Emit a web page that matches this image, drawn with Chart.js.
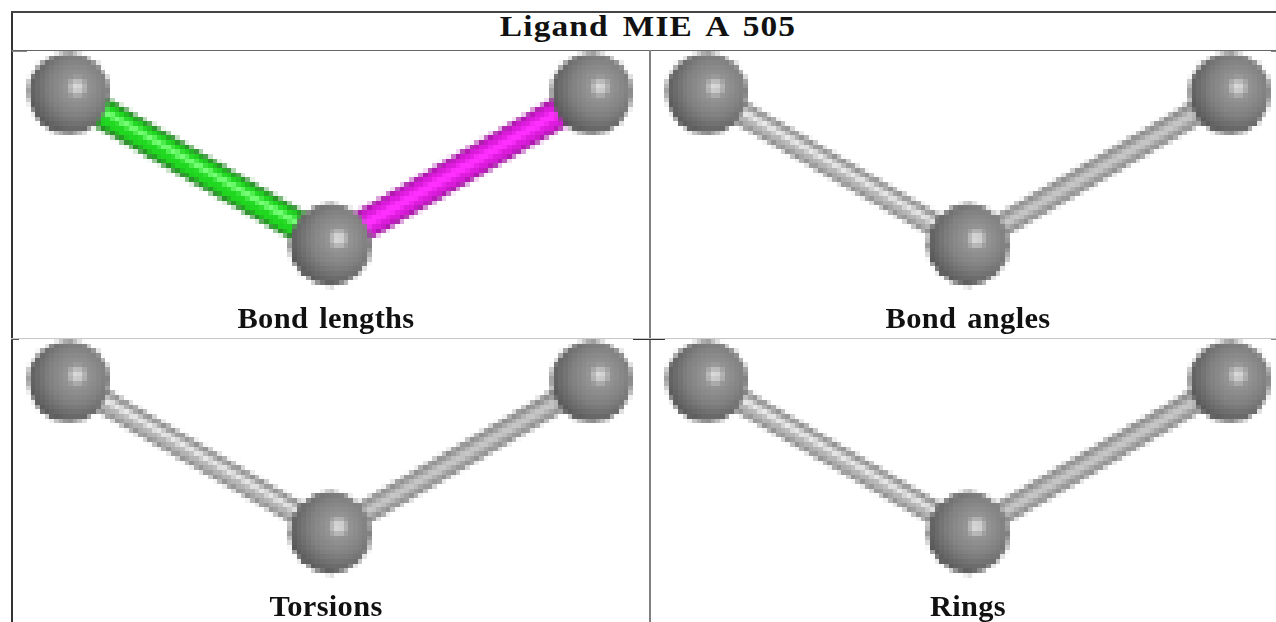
<!DOCTYPE html>
<html>
<head>
<meta charset="utf-8">
<title>Ligand MIE A 505</title>
<script src="https://cdn.jsdelivr.net/npm/chart.js@4"></script>
<style>
  html, body { margin: 0; padding: 0; background: #fff; }
  body { position: relative; width: 1276px; height: 622px; overflow: hidden; font-family: "Liberation Serif", serif; color: #111; }
  canvas { position: absolute; image-rendering: pixelated; width: 635px !important; height: 262px !important; }
  .rule { position: absolute; }
  .txt { position: absolute; font-weight: bold; white-space: pre; text-align: center; line-height: 1; }
  .title { font-size: 29px; letter-spacing: 1px; word-spacing: 4px; top: 12px; transform: translateX(-50%) scaleX(1.15); }
  .cap { font-size: 29px; letter-spacing: 0.3px; word-spacing: 3px; transform: translateX(-50%) scaleX(1.05); }
</style>
</head>
<body>
<script>
// Atoms of the ligand, in pixels of the small source image
const atomX = [0, 56, 112];
const atomY = [32.3, 0, 32.3];
const bonds = [[0, 1], [1, 2]];

const panelNames = ["Bond lengths", "Bond angles", "Torsions", "Rings"];
const panelLeft = [12, 650, 12, 650];
const panelTop = [51, 51, 339, 339];
const capCentre = [326, 968, 326, 968];
const capTop = [304, 304, 592, 592];

// bond colours [edge, body, shine], per panel, per bond
const greyBonds = [["#8c8c8c", "#b4b4b4", "#ececec"], ["#8e8e8e", "#a6a6a6", "#c6c6c6"]];
const bondColours = [
  [["#278a27", "#20d820", "#78ff78"], ["#a418a4", "#dc1cdc", "#ff30ff"]],
  greyBonds, greyBonds, greyBonds
];
const bondWidths = [[31, 22, 6], [31, 23, 9], [24, 16, 5], [24, 15, 7]];

const PIXEL = 4.67; // one source pixel on the screen

// table lines: x, y, w, h, colour
const rules = [
  [11, 11, 1.5, 611, "#333"], [11, 11, 1265, 1.5, "#444"],
  [11, 50, 1265, 1, "#666"], [12, 51, 15, 1, "#888"], [1271, 51, 5, 1, "#888"],
  [649, 50, 2, 572, "#808080"], [11, 338, 1265, 1, "#c8c8c8"],
  [633, 339, 32, 1, "#333"], [11, 339, 8, 1, "#555"], [1271, 339, 5, 1, "#888"]
];

rules.forEach(r => {
  const d = document.createElement("div");
  d.className = "rule";
  d.style.cssText = `left:${r[0]}px;top:${r[1]}px;width:${r[2]}px;height:${r[3]}px;background:${r[4]}`;
  document.body.appendChild(d);
});

function addText(text, cls, x, y) {
  const d = document.createElement("div");
  d.className = "txt " + cls;
  d.textContent = text;
  d.style.left = x + "px";
  if (y !== null) d.style.top = y + "px";
  document.body.appendChild(d);
}

// Sphere shading, centred on the highlight
function ballFill(c) {
  if (c.type !== "data") return "#808080";
  const chart = c.chart;
  const x = chart.scales.x.getPixelForValue(atomX[c.dataIndex]) + 8;
  const y = chart.scales.y.getPixelForValue(atomY[c.dataIndex]) - 6;
  if (!isFinite(x) || !isFinite(y)) return "#808080";
  const g = chart.ctx.createRadialGradient(x, y, 0, x, y, 52);
  g.addColorStop(0, "#e8e8e8");
  g.addColorStop(0.1, "#c4c4c4");
  g.addColorStop(0.22, "#949494");
  g.addColorStop(0.55, "#808080");
  g.addColorStop(0.85, "#636363");
  g.addColorStop(1, "#505050");
  return g;
}

function bondDatasets(panel) {
  const sets = [];
  bonds.forEach((b, i) => {
    const colours = bondColours[panel][i];
    const widths = bondWidths[panel === 0 ? i : i + 2];
    // layered lines make the cylinder look, shine sits a bit off centre
    colours.forEach((col, layer) => {
      const lift = layer === 2 && i === 0 ? 0.5 : 0;
      sets.push({
        type: "line",
        data: b.map(a => ({ x: atomX[a], y: atomY[a] + lift })),
        borderColor: col,
        borderWidth: widths[layer],
        pointRadius: 0,
        fill: false,
        clip: false,
        order: 10 - layer
      });
    });
  });
  return sets;
}

panelNames.forEach((name, p) => {
  const canvas = document.createElement("canvas");
  canvas.width = 635;
  canvas.height = 262;
  canvas.style.left = panelLeft[p] + "px";
  canvas.style.top = panelTop[p] + "px";
  document.body.appendChild(canvas);

  new Chart(canvas.getContext("2d"), {
    type: "scatter",
    data: {
      datasets: [{
        data: atomX.map((x, i) => ({ x: x, y: atomY[i] })),
        pointRadius: 41,
        pointBorderWidth: 0,
        pointBackgroundColor: ballFill,
        clip: false,
        order: 1
      }].concat(bondDatasets(p))
    },
    options: {
      responsive: false,
      animation: false,
      devicePixelRatio: 1 / PIXEL,
      layout: { padding: 0, autoPadding: false },
      plugins: { legend: { display: false }, tooltip: { enabled: false }, title: { display: false } },
      events: [],
      scales: {
        x: { type: "linear", display: false, min: -12.2, max: 123.8 },
        y: { type: "linear", display: false, min: -14.7, max: 41.3 }
      }
    }
  });

  addText(name, "cap", capCentre[p], capTop[p]);
});

addText("Ligand MIE A 505", "title", 648, null);
</script>
</body>
</html>
